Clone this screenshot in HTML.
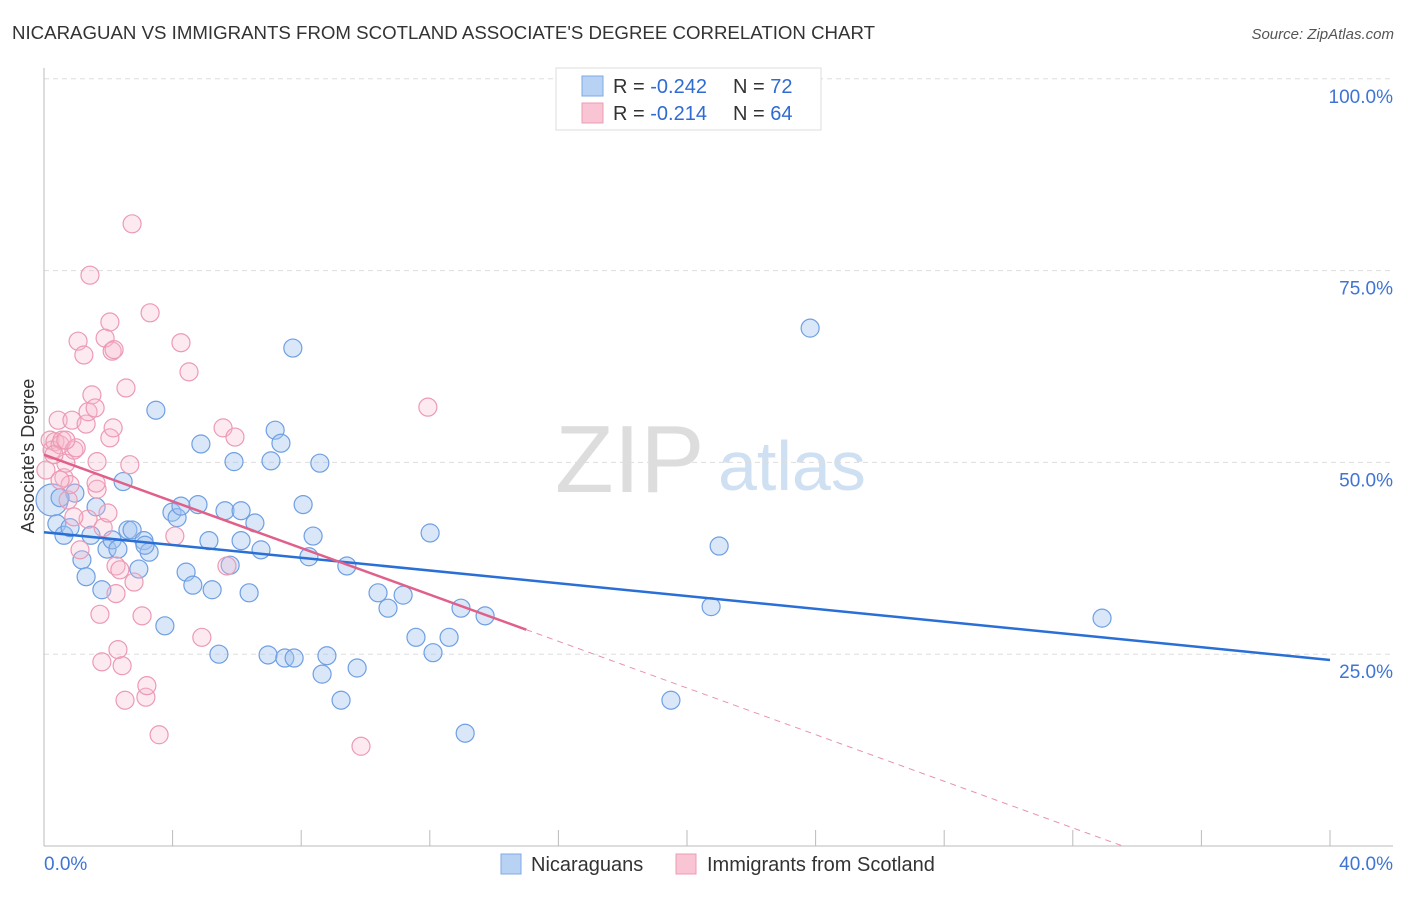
<!DOCTYPE html>
<html><head><meta charset="utf-8"><style>
body{margin:0;background:#fff;font-family:"Liberation Sans",sans-serif}
svg text{font-family:"Liberation Sans",sans-serif}
</style></head><body>
<svg width="1406" height="892" xmlns="http://www.w3.org/2000/svg">
<text x="12" y="39" font-size="18" fill="#333" textLength="863" lengthAdjust="spacingAndGlyphs">NICARAGUAN VS IMMIGRANTS FROM SCOTLAND ASSOCIATE'S DEGREE CORRELATION CHART</text>
<text x="1394" y="39" font-size="15" fill="#555" font-style="italic" text-anchor="end">Source: ZipAtlas.com</text>
<g>
<text x="555" y="492" font-size="96" fill="#ddd" font-family="Liberation Serif">ZIP</text>
<text x="718" y="490" font-size="70" fill="#cfe0f3">atlas</text>
</g>
<g id="grid"></g>
<g id="axes"></g>
<g id="marks"></g>
<g>
<rect x="556" y="68" width="265" height="62" fill="#fff" stroke="#ddd"/>
<rect x="582" y="76" width="21" height="20" fill="#b8d2f4" stroke="#7fa9e6"/>
<rect x="582" y="103" width="21" height="20" fill="#f9c4d3" stroke="#ec9bb3"/>
<text x="613" y="93" font-size="20" fill="#333">R = <tspan fill="#2f6bd2">-0.242</tspan></text>
<text x="733" y="93" font-size="20" fill="#333">N = <tspan fill="#2f6bd2">72</tspan></text>
<text x="613" y="120" font-size="20" fill="#333">R = <tspan fill="#2f6bd2"> -0.214</tspan></text>
<text x="733" y="120" font-size="20" fill="#333">N = <tspan fill="#2f6bd2">64</tspan></text>
</g>
<g>
<rect x="501" y="854" width="20" height="20" fill="#b8d2f4" stroke="#7fa9e6"/>
<text x="531" y="871" font-size="20" fill="#333">Nicaraguans</text>
<text x="707" y="871" font-size="20" fill="#333">Immigrants from Scotland</text>
<rect x="676" y="854" width="20" height="20" fill="#f9c4d3" stroke="#ec9bb3"/>
</g>
<text transform="translate(34,456) rotate(-90)" font-size="18" fill="#333" text-anchor="middle">Associate's Degree</text>
</svg>
<script>
const yTicks=[25,50,75,100];
const yTickLabels=["25.0%","50.0%","75.0%","100.0%"];
const xTickVals=[0,4,8,12,16,20,24,28,32,36,40];
const blueX=[.25,.40,.62,.81,.96,1.18,1.31,1.46,1.62,1.80,1.96,2.12,2.30,2.46,2.61,2.74,2.95,3.11,3.27,3.48,3.76,3.98,4.14,4.26,4.42,4.63,4.79,4.88,5.13,5.23,5.44,5.63,5.79,5.91,6.13,6.13,6.38,6.56,6.75,6.97,7.06,7.19,7.37,7.49,7.78,7.74,8.06,8.24,8.37,8.58,8.80,8.65,9.24,9.42,9.74,10.39,10.70,11.17,11.57,12.01,12.10,12.60,12.97,13.10,13.72,19.50,20.75,21.00,23.83,32.91,.50,3.14];
const blueY=[45.1,42.0,40.5,41.5,46.0,37.3,35.1,40.5,44.2,33.4,38.7,39.9,38.7,47.5,41.2,41.2,36.1,39.8,38.3,56.8,28.7,43.5,42.8,44.3,35.7,34.0,44.5,52.4,39.8,33.4,25.0,43.7,36.6,50.1,39.8,43.7,33.0,42.1,38.6,24.9,50.2,54.2,52.5,24.5,24.5,64.9,44.5,37.7,40.4,49.9,24.8,22.4,19.0,36.5,23.2,33.0,31.0,32.7,27.2,40.8,25.2,27.2,31.0,14.7,30.0,19.0,31.2,39.1,67.5,29.7,45.4,39.2];
const pinkX=[.06,.19,.25,.34,.44,.50,.56,.62,.68,.75,.81,.87,.93,1.00,1.06,1.12,1.24,1.31,1.37,1.43,1.49,1.59,1.65,1.74,1.80,1.84,1.90,1.99,2.05,2.05,2.12,2.18,2.24,2.30,2.36,2.43,2.52,2.55,2.67,2.74,2.80,3.05,3.17,3.20,3.30,3.58,4.07,4.26,4.51,4.91,5.57,5.69,5.94,9.86,11.94,2.15,1.37,.93,1.65,.50,.68,.31,2.24,1.62];
const pinkY=[49.0,52.9,51.6,52.7,55.5,52.3,52.9,48.0,49.9,45.1,47.1,55.5,51.6,51.9,65.8,38.6,64.0,55.0,56.6,74.4,58.8,57.1,50.1,30.2,24.0,41.5,66.2,43.4,68.3,53.2,64.5,64.7,36.5,25.6,36.0,23.5,19.0,59.7,49.7,81.1,34.4,30.0,19.4,20.9,69.5,14.5,40.4,65.6,61.8,27.2,54.5,36.5,53.3,13.0,57.2,54.5,42.6,42.9,46.5,47.7,52.9,51.0,32.9,47.3];
const blueTrend=[40.9,24.25];
const pinkTrend=[51.0,(28.2-51.0)/15];
const pinkSolidEnd=15, pinkDashEnd=33.5;

const NS="http://www.w3.org/2000/svg";
const X=v=>44+v*32.15, Y=v=>846-v*7.672;
function mk(tag,attrs,parent){const e=document.createElementNS(NS,tag);for(const k in attrs)e.setAttribute(k,attrs[k]);parent.appendChild(e);return e;}
const grid=document.getElementById('grid'),axes=document.getElementById('axes'),marks=document.getElementById('marks');
yTicks.forEach((t,i)=>{
 const l=mk('line',{x1:44,x2:1393,y1:Y(t),y2:Y(t),stroke:'#ddd','stroke-dasharray':'5,4'},grid);
 
 
 const tx=mk('text',{x:1393,y:Y(t)+24,'font-size':19,fill:'#3f74d4','text-anchor':'end'},axes);
 tx.textContent=yTickLabels[i];
 
 
});
let a=mk('line',{x1:44,x2:44,y1:68,y2:846,stroke:'#bbb'},axes);


a=mk('line',{x1:44,x2:1393,y1:846,y2:846,stroke:'#bbb'},axes);


xTickVals.forEach(t=>{
 const l=mk('line',{x1:X(t),x2:X(t),y1:830,y2:846,stroke:'#bbb'},axes);
 
 
});
let t0=mk('text',{x:44,y:870,'font-size':19,fill:'#3f74d4'},axes);t0.textContent='0.0%';


let t1=mk('text',{x:1393,y:870,'font-size':19,fill:'#3f74d4','text-anchor':'end'},axes);t1.textContent='40.0%';



blueX.forEach((x,i)=>{
 const c=mk('circle',{cx:X(x),cy:Y(blueY[i]),r:i===0?16:9,fill:'rgba(160,196,240,0.4)',stroke:'#6f9fe3','stroke-width':1.2},marks);
 
 
});
pinkX.forEach((x,i)=>{
 const c=mk('circle',{cx:X(x),cy:Y(pinkY[i]),r:9,fill:'rgba(248,185,205,0.3)',stroke:'#ec9ab4','stroke-width':1.2},marks);
 
 
});
let bl=mk('line',{x1:X(0),y1:Y(blueTrend[0]),x2:X(40),y2:Y(blueTrend[1]),stroke:'#2a6fd6','stroke-width':2.5},marks);


const py=x=>pinkTrend[0]+pinkTrend[1]*x;
let pl=mk('line',{x1:X(0),y1:Y(py(0)),x2:X(pinkSolidEnd),y2:Y(py(pinkSolidEnd)),stroke:'#e0608a','stroke-width':2.5},marks);


let pd=mk('line',{x1:X(pinkSolidEnd),y1:Y(py(pinkSolidEnd)),x2:X(pinkDashEnd),y2:Y(py(pinkDashEnd)),stroke:'#e890aa','stroke-width':1,'stroke-dasharray':'6,5'},marks);


</script>
</body></html>
